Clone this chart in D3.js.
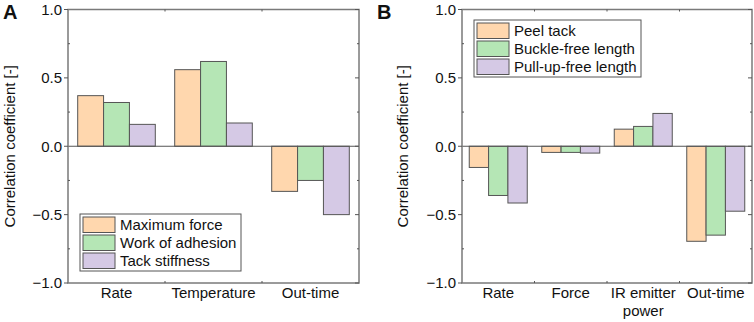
<!DOCTYPE html>
<html lang="en">
<head>
    <meta charset="UTF-8">
    <title>Correlation coefficients</title>
    <script src="https://cdn.jsdelivr.net/npm/d3@7"></script>
    <style>
        body { margin: 0; background: #fff; }
        text { font-family: "Liberation Sans", Arial, sans-serif; fill: #111; }
    </style>
</head>
<body>
<div id="d3"></div>
<script>
    // panel A
    var catsA = ["Rate", "Temperature", "Out-time"];
    var seriesA = ["Maximum force", "Work of adhesion", "Tack stiffness"];
    var maxForce = [0.37, 0.56, -0.33];
    var workAdhesion = [0.32, 0.62, -0.25];
    var tackStiffness = [0.16, 0.17, -0.50];

    // panel B
    var catsB = [["Rate"], ["Force"], ["IR emitter", "power"], ["Out-time"]];
    var seriesB = ["Peel tack", "Buckle-free length", "Pull-up-free length"];
    var peelTack = [-0.155, -0.045, 0.125, -0.695];
    var buckleFree = [-0.36, -0.045, 0.145, -0.65];
    var pullUpFree = [-0.415, -0.05, 0.24, -0.475];

    var yTicks = [-1.0, -0.5, 0.0, 0.5, 1.0];
    var yMinor = [-0.75, -0.25, 0.25, 0.75];

    var colors = ["#ffd7ae", "#b5e6b5", "#d5c9e5"];

    var svg = d3.select("#d3").append("svg")
        .attr("width", 754)
        .attr("height", 322);

    function panel(opts) {
        var g = svg.append("g");
        var left = opts.left, right = opts.right, top = 9.5, bottom = 283;

        var labels = opts.cats.map(function (c) { return c.join(" "); });
        var x = d3.scaleBand().domain(labels).range([left, right]).paddingInner(0.2).paddingOuter(0.1);
        var xOuter = d3.scaleBand().domain(labels).range([left, right]);
        var x1 = d3.scaleBand().domain([0, 1, 2]).range([0, x.bandwidth()]);
        var y = d3.scaleLinear().domain([-1, 1]).range([bottom, top]);

        // bars
        opts.values.forEach(function (vals, s) {
            g.selectAll(null).data(vals).enter().append("rect")
                .attr("x", function (d, i) { return x(labels[i]) + x1(s); })
                .attr("y", function (d) { return y(Math.max(0, d)); })
                .attr("width", x1.bandwidth())
                .attr("height", function (d) { return Math.abs(y(d) - y(0)); })
                .attr("fill", colors[s])
                .attr("stroke", "#555")
                .attr("stroke-width", 1);
        });

        // zero line
        g.append("line")
            .attr("x1", left).attr("x2", right)
            .attr("y1", y(0)).attr("y2", y(0))
            .attr("stroke", "#555").attr("stroke-width", 1.2);

        // frame
        g.append("rect")
            .attr("x", left).attr("y", top)
            .attr("width", right - left).attr("height", bottom - top)
            .attr("fill", "none").attr("stroke", "#7a7a7a").attr("stroke-width", 1.5);

        // y ticks left (major outward) and right (inward)
        g.selectAll(null).data(yTicks).enter().append("line")
            .attr("x1", left - 4).attr("x2", left)
            .attr("y1", function (d) { return y(d); }).attr("y2", function (d) { return y(d); })
            .attr("stroke", "#555");
        g.selectAll(null).data(yTicks).enter().append("line")
            .attr("x1", right - 4).attr("x2", right)
            .attr("y1", function (d) { return y(d); }).attr("y2", function (d) { return y(d); })
            .attr("stroke", "#555");
        g.selectAll(null).data(yMinor).enter().append("line")
            .attr("x1", left).attr("x2", left + 2)
            .attr("y1", function (d) { return y(d); }).attr("y2", function (d) { return y(d); })
            .attr("stroke", "#555");
        g.selectAll(null).data(yMinor).enter().append("line")
            .attr("x1", right - 2).attr("x2", right)
            .attr("y1", function (d) { return y(d); }).attr("y2", function (d) { return y(d); })
            .attr("stroke", "#555");

        // x ticks at band boundaries
        var bounds = labels.slice(1).map(function (l) { return xOuter(l); });
        g.selectAll(null).data(bounds).enter().append("line")
            .attr("x1", function (d) { return d; }).attr("x2", function (d) { return d; })
            .attr("y1", bottom).attr("y2", bottom - 2)
            .attr("stroke", "#555");
        g.selectAll(null).data(bounds).enter().append("line")
            .attr("x1", function (d) { return d; }).attr("x2", function (d) { return d; })
            .attr("y1", top).attr("y2", top + 2)
            .attr("stroke", "#555");

        // tick labels
        g.selectAll(null).data(yTicks).enter().append("text")
            .attr("x", left - 6)
            .attr("y", function (d) { return y(d); })
            .attr("dy", "0.35em")
            .attr("text-anchor", "end")
            .style("font-size", "15px")
            .text(function (d) { return d3.format(".1f")(d); });

        // category labels
        opts.cats.forEach(function (c, i) {
            var t = g.append("text")
                .attr("x", x(labels[i]) + x.bandwidth() / 2)
                .attr("y", 298)
                .attr("text-anchor", "middle")
                .style("font-size", "15px");
            c.forEach(function (line, j) {
                t.append("tspan")
                    .attr("x", x(labels[i]) + x.bandwidth() / 2)
                    .attr("dy", j === 0 ? 0 : 18)
                    .text(line);
            });
        });

        // y label
        g.append("text")
            .attr("transform", "translate(" + (opts.yLabelX) + "," + ((top + bottom) / 2) + ") rotate(-90)")
            .attr("text-anchor", "middle")
            .style("font-size", "15px")
            .text("Correlation coefficient [-]");

        // panel letter
        g.append("text")
            .attr("x", opts.letterX).attr("y", 19)
            .style("font-size", "20px").style("font-weight", "bold")
            .text(opts.letter);

        // legend
        var lg = g.append("g").attr("transform", "translate(" + opts.legX + "," + opts.legY + ")");
        lg.append("rect")
            .attr("width", opts.legW).attr("height", 57)
            .attr("fill", "#fff").attr("stroke", "#555").attr("stroke-width", 1);
        opts.series.forEach(function (name, s) {
            lg.append("rect")
                .attr("x", 3).attr("y", 3 + s * 18)
                .attr("width", 32).attr("height", 15.5)
                .attr("fill", colors[s]).attr("stroke", "#555");
            lg.append("text")
                .attr("x", 40).attr("y", 11 + s * 18)
                .attr("dy", "0.35em")
                .style("font-size", "15px")
                .text(name);
        });
    }

    panel({
        left: 68, right: 359,
        cats: catsA.map(function (c) { return [c]; }),
        series: seriesA,
        values: [maxForce, workAdhesion, tackStiffness],
        yLabelX: 15, letter: "A", letterX: 3,
        legX: 80, legY: 214, legW: 161
    });

    panel({
        left: 462, right: 752,
        cats: catsB,
        series: seriesB,
        values: [peelTack, buckleFree, pullUpFree],
        yLabelX: 408, letter: "B", letterX: 377,
        legX: 474, legY: 20, legW: 167
    });
</script>
</body>
</html>
